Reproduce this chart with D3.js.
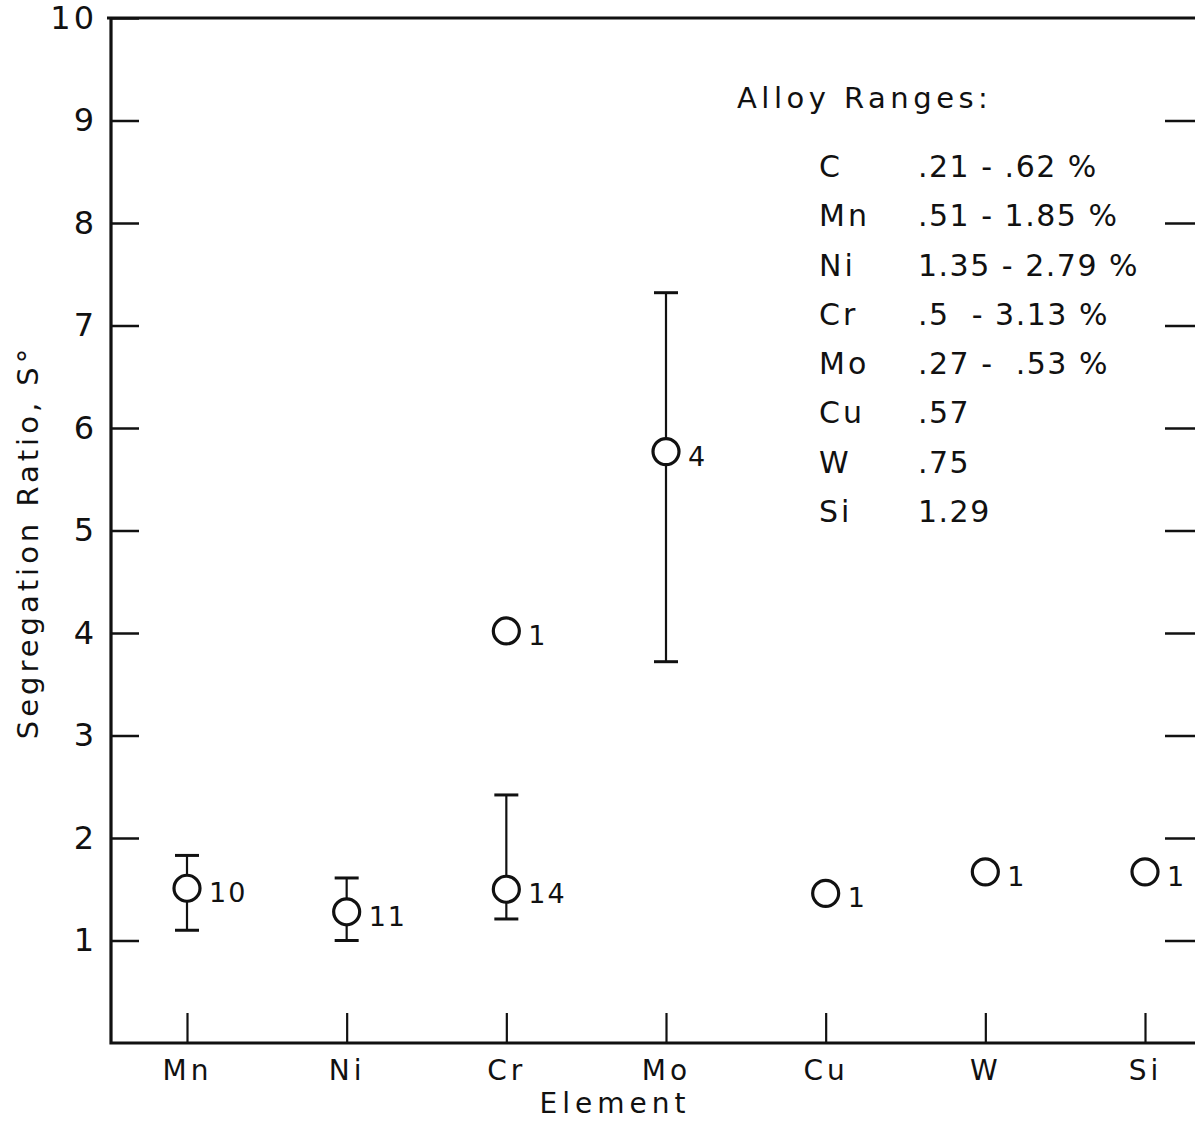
<!DOCTYPE html>
<html>
<head>
<meta charset="utf-8">
<script src="https://cdn.jsdelivr.net/npm/d3@7.9.0/dist/d3.min.js"></script>
<style>
  body { margin: 0; background: #fff; }
  svg text { font-family: "DejaVu Sans", "Liberation Sans", sans-serif; fill: #111; }
</style>
</head>
<body>
<svg width="1195" height="1121"></svg>
<script>
// elements on the x axis
const elements = ['Mn', 'Ni', 'Cr', 'Mo', 'Cu', 'W', 'Si'];

// points: element, mean S°, error bar low / high (null = no bar), number of samples
const pointElement = ['Mn', 'Ni', 'Cr', 'Cr', 'Mo', 'Cu', 'W', 'Si'];
const pointMean    = [1.51, 1.28, 1.50, 4.02, 5.77, 1.46, 1.67, 1.67];
const pointLow     = [1.10, 1.00, 1.21, null, 3.72, null, null, null];
const pointHigh    = [1.83, 1.61, 2.42, null, 7.32, null, null, null];
const pointCount   = ['10', '11', '14', '1', '4', '1', '1', '1'];

const yTicks = [1, 2, 3, 4, 5, 6, 7, 8, 9, 10];

// alloy ranges table
const alloyNames  = ['C', 'Mn', 'Ni', 'Cr', 'Mo', 'Cu', 'W', 'Si'];
const alloyRanges = ['.21 - .62 %', '.51 - 1.85 %', '1.35 - 2.79 %', '.5  - 3.13 %',
                     '.27 -  .53 %', '.57', '.75', '1.29'];

const svg = d3.select('svg');

const x = d3.scalePoint().domain(elements).range([187, 1145]);
const y = d3.scaleLinear().domain([0, 10]).range([1043, 18]);

const left = 111, right = 1198;

// frame: left, top and bottom lines
svg.append('path')
  .attr('d', `M${right},${y(10)}H${left - 4}M${left},${y(10)}V${y(0)}H${right}`)
  .attr('fill', 'none').attr('stroke', '#111').attr('stroke-width', 3.2);

// left axis
const yAxis = svg.append('g')
  .attr('transform', `translate(${left},0)`)
  .call(d3.axisLeft(y).tickValues(yTicks).tickSize(-28).tickPadding(14).tickFormat(d3.format('d')));
yAxis.select('.domain').remove();
yAxis.selectAll('line').attr('stroke', '#111').attr('stroke-width', 2.5);
yAxis.selectAll('text').attr('font-size', 32).attr('font-family', null).attr('fill', '#111')
  .attr('letter-spacing', 3);

// right axis ticks (edge of the figure)
const rAxis = svg.append('g')
  .attr('transform', `translate(${right},0)`)
  .call(d3.axisRight(y).tickValues(yTicks.slice(0, 9)).tickSize(-33).tickFormat(''));
rAxis.select('.domain').remove();
rAxis.selectAll('line').attr('stroke', '#111').attr('stroke-width', 2.5);

// bottom axis
const xAxis = svg.append('g')
  .attr('transform', `translate(0,${y(0)})`)
  .call(d3.axisBottom(x).tickSize(-30).tickPadding(17));
xAxis.select('.domain').remove();
xAxis.selectAll('line').attr('stroke', '#111').attr('stroke-width', 2.2);
xAxis.selectAll('text').attr('font-size', 28).attr('font-family', null).attr('fill', '#111')
  .attr('letter-spacing', 4);

// axis titles
svg.append('text')
  .attr('x', 615).attr('y', 1113)
  .attr('text-anchor', 'middle')
  .attr('font-size', 28).attr('letter-spacing', 5)
  .text('Element');

svg.append('text')
  .attr('transform', 'translate(38,542) rotate(-90)')
  .attr('text-anchor', 'middle')
  .attr('font-size', 29).attr('letter-spacing', 4)
  .text('Segregation Ratio, S°');

// error bars
const bars = svg.append('g').attr('stroke', '#111').attr('stroke-width', 2.2);
pointMean.forEach((m, i) => {
  if (pointLow[i] === null) return;
  const cx = x(pointElement[i]);
  bars.append('line')
    .attr('x1', cx).attr('x2', cx)
    .attr('y1', y(pointHigh[i])).attr('y2', y(pointLow[i]));
  [pointLow[i], pointHigh[i]].forEach(v => {
    bars.append('line')
      .attr('x1', cx - 12).attr('x2', cx + 12)
      .attr('y1', y(v)).attr('y2', y(v))
      .attr('stroke-width', 3);
  });
});

// circles and sample counts
pointMean.forEach((m, i) => {
  const cx = x(pointElement[i]);
  svg.append('circle')
    .attr('cx', cx).attr('cy', y(m)).attr('r', 13)
    .attr('fill', '#fff').attr('stroke', '#111').attr('stroke-width', 3.2);
  svg.append('text')
    .attr('x', cx + 22).attr('y', y(m) + 14)
    .attr('font-size', 27).attr('letter-spacing', 2)
    .text(pointCount[i]);
});

// alloy ranges legend
svg.append('text')
  .attr('x', 737).attr('y', 108)
  .attr('font-size', 29).attr('letter-spacing', 4.5)
  .text('Alloy Ranges:');

const rowY = d3.scalePoint().domain(alloyNames).range([177, 522]);
alloyNames.forEach((n, i) => {
  svg.append('text')
    .attr('x', 819).attr('y', rowY(n))
    .attr('font-size', 30).attr('letter-spacing', 3)
    .text(n);
  svg.append('text')
    .attr('x', 918).attr('y', rowY(n))
    .attr('font-size', 30).attr('letter-spacing', 1.5)
    .attr('xml:space', 'preserve').style('white-space', 'pre')
    .text(alloyRanges[i]);
});
</script>
</body>
</html>
